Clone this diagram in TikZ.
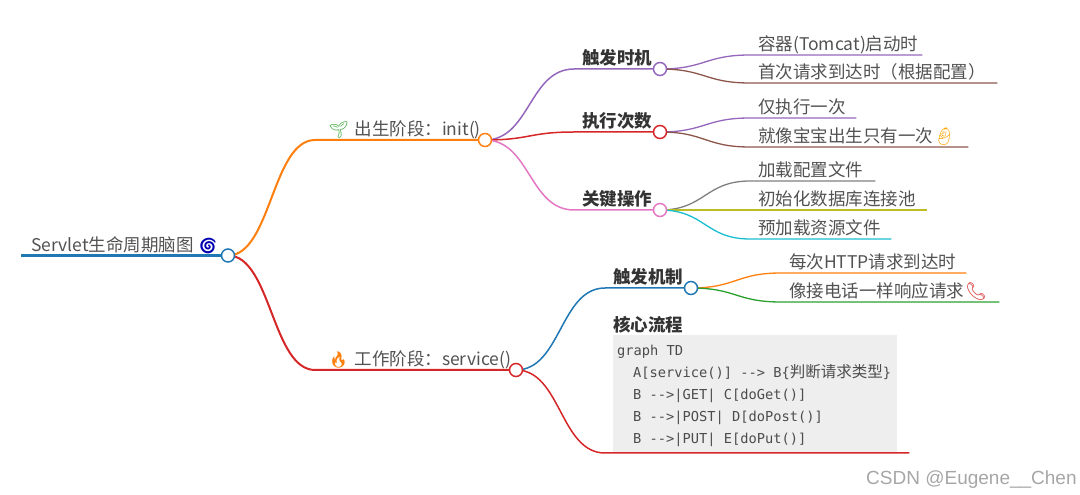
\documentclass[tikz,border=0pt]{standalone}
\usepackage{fontspec}
\setmainfont{Noto Sans CJK SC}
\setmonofont{DejaVu Sans Mono}
\newfontfamily\cjkcode{Noto Sans CJK SC}
\newfontfamily\emojifont{Noto Emoji}
\newfontfamily\markfont{Liberation Sans}
\usepackage{xcolor}
\usetikzlibrary{positioning,calc,backgrounds}
\newcommand{\codesp}{\hspace*{8.25pt}}

\definecolor{mapblue}{HTML}{1F77B4}
\definecolor{maporange}{HTML}{FF7F0E}
\definecolor{mapgreen}{HTML}{2CA02C}
\definecolor{mapred}{HTML}{D62728}
\definecolor{mappurple}{HTML}{9467BD}
\definecolor{mapbrown}{HTML}{8C564B}
\definecolor{mappink}{HTML}{E377C2}
\definecolor{mapgray}{HTML}{7F7F7F}
\definecolor{mapolive}{HTML}{BCBD22}
\definecolor{mapcyan}{HTML}{17BECF}

\begin{document}
\begin{tikzpicture}[
    x=1pt, y=1pt,
    node distance=0pt,
    dot/.style={circle, draw=#1, fill=white, line width=1.5pt, inner sep=0pt, minimum size=13pt},
    txt/.style={inner ysep=0pt, inner xsep=8pt, text depth=4pt, text height=15pt, align=left, text=black!68,
        font=\fontsize{17.5}{21}\selectfont},
    leaf/.style={txt, anchor=south west},
    stem/.style={txt, anchor=south east},
    strong/.style={stem, text=black!80, font=\fontsize{17.5}{21}\selectfont\bfseries},
    codebox/.style={fill=black!6.5, anchor=south west, inner xsep=4pt, inner ysep=0pt, align=left, text width=276pt, minimum height=117pt,
        text=black!70, font=\fontsize{13.7}{22}\ttfamily},
    curve/.style={line width=#1},
    curve/.default=1.3pt
]
    \useasboundingbox (0,0) rectangle (1080,495);

    % Dots
    \node (root_dot) [dot=mapblue] at (228,239.5) {};
    \node (init_dot) [dot=maporange, right of=root_dot, xshift=257pt, yshift=115.5pt] {};
    \node (service_dot) [dot=mapred, right of=root_dot, xshift=288pt, yshift=-114.5pt] {};
    \node (timing_dot) [dot=mappurple, right of=init_dot, xshift=175pt, yshift=71pt] {};
    \node (count_dot) [dot=mapred, right of=init_dot, xshift=175pt, yshift=8pt] {};
    \node (ops_dot) [dot=mappink, right of=init_dot, xshift=175pt, yshift=-70pt] {};
    \node (mech_dot) [dot=mapblue, right of=service_dot, xshift=175pt, yshift=82pt] {};

    % Stems
    \node (root_txt) [left of=root_dot, xshift=-6.5pt, stem, inner xsep=10pt, text width=180pt] {\mbox{Servlet生命周期脑图\hspace{4pt}{\emojifont\fontsize{16}{21}\selectfont\textcolor{blue!70!black}{🌀}}}};
    \node (init_txt) [left of=init_dot, xshift=-6.5pt, stem, inner xsep=13pt, text width=137pt] {\mbox{{\emojifont\fontsize{16}{21}\selectfont\textcolor{mapgreen}{🌱}}\hspace{6pt}出生阶段：init()}};
    \node (service_txt) [left of=service_dot, xshift=-6.5pt, stem, inner xsep=13pt, text width=168pt] {\mbox{{\emojifont\fontsize{16}{21}\selectfont\textcolor{maporange}{🔥}}\hspace{6pt}工作阶段：service()}};
    \node (timing_txt) [left of=timing_dot, xshift=-6.5pt, strong, text width=63pt] {触发时机};
    \node (count_txt) [left of=count_dot, xshift=-6.5pt, strong, text width=63pt] {执行次数};
    \node (ops_txt) [left of=ops_dot, xshift=-6.5pt, strong, text width=63pt] {关键操作};
    \node (mech_txt) [left of=mech_dot, xshift=-6.5pt, strong, text width=63pt] {触发机制};

    % Leaves
    \node (tomcat_txt) [right of=timing_dot, xshift=90pt, yshift=14pt, leaf, text width=156pt] {容器(Tomcat)启动时};
    \node (first_txt) [right of=timing_dot, xshift=90pt, yshift=-14pt, leaf, text width=231pt] {首次请求到达时（根据配置）};
    \node (once_txt) [right of=count_dot, xshift=90pt, yshift=14pt, leaf, text width=90pt] {仅执行一次};
    \node (baby_txt) [right of=count_dot, xshift=90pt, yshift=-15pt, leaf, text width=202pt] {\mbox{就像宝宝出生只有一次{\emojifont\textcolor{maporange!70!yellow}{👶}}}};
    \node (load_txt) [right of=ops_dot, xshift=90pt, yshift=29pt, leaf, text width=109pt] {加载配置文件};
    \node (pool_txt) [right of=ops_dot, xshift=90pt, leaf, text width=161pt] {初始化数据库连接池};
    \node (res_txt) [right of=ops_dot, xshift=90pt, yshift=-29pt, leaf, text width=125pt] {预加载资源文件};
    \node (http_txt) [right of=mech_dot, xshift=90pt, yshift=15pt, leaf, text width=169pt] {每次HTTP请求到达时};
    \node (phone_txt) [right of=mech_dot, xshift=90pt, yshift=-14pt, leaf, text width=202pt] {\mbox{像接电话一样响应请求\hspace{1pt}{\emojifont\textcolor{mapred}{📞}}}};

    % Code block
    \node (flow_box) [right of=service_dot, xshift=97pt, yshift=-82pt, codebox] {\rule{0pt}{16pt}graph\codesp TD\\
    \hspace*{16pt}A[service()]\codesp -{}-{}>\codesp B\{{\cjkcode\fontsize{15.5}{22}\selectfont 判断请求类型}\}\\
    \hspace*{16pt}B\codesp -{}-{}>|GET|\codesp C[doGet()]\\
    \hspace*{16pt}B\codesp -{}-{}>|POST|\codesp D[doPost()]\\
    \hspace*{16pt}B\codesp -{}-{}>|PUT|\codesp E[doPut()]};
    \node (flow_txt) [anchor=south west, txt, inner xsep=0pt, text=black!80, font=\fontsize{17.5}{21}\selectfont\bfseries, text depth=3pt] at (flow_box.north west) {核心流程};
    \coordinate (flow_in) at ($(flow_box.south west)+(-8,-1)$);
    \coordinate (flow_out) at ($(flow_box.south east)+(12,-1)$);

    % Watermark
    \node (mark_txt) [xshift=253pt, yshift=-28pt, anchor=west, inner sep=0pt, text=black!35, font=\markfont\fontsize{19}{22}\selectfont] at (flow_box.south west) {CSDN @Eugene\_\_Chen};

    \begin{scope}[on background layer]
    % Root
    \draw [mapblue, line width=2.6pt] (root_txt.south west) -- (root_dot);

    % First level
    \draw [maporange, line width=2pt] (root_dot.center) .. controls +(43,0) and +(-43,0) .. (init_txt.south west) -- (init_dot);
    \draw [mapred, line width=2pt] (root_dot.center) .. controls +(43,0) and +(-43,0) .. (service_txt.south west) -- (service_dot);

    % Second level
    \draw [mappurple, curve=1.5pt] (init_dot.center) .. controls +(45,0) and +(-45,0) .. (timing_txt.south west) -- (timing_dot);
    \draw [mapred, curve=1.5pt] (init_dot.center) .. controls +(45,0) and +(-45,0) .. (count_txt.south west) -- (count_dot);
    \draw [mappink, curve=1.5pt] (init_dot.center) .. controls +(45,0) and +(-45,0) .. (ops_txt.south west) -- (ops_dot);
    \draw [mapblue, curve=1.5pt] (service_dot.center) .. controls +(45,0) and +(-45,0) .. (mech_txt.south west) -- (mech_dot);
    \draw [mapred, curve=1.5pt] (service_dot.center) .. controls +(45,0) and +(-45,0) .. (flow_in) -- (flow_out);

    % Third level
    \draw [mappurple, curve] (timing_dot.center) .. controls +(45,0) and +(-45,0) .. (tomcat_txt.south west) -- (tomcat_txt.south east);
    \draw [mapbrown, curve] (timing_dot.center) .. controls +(45,0) and +(-45,0) .. (first_txt.south west) -- (first_txt.south east);
    \draw [mappurple, curve] (count_dot.center) .. controls +(45,0) and +(-45,0) .. (once_txt.south west) -- (once_txt.south east);
    \draw [mapbrown, curve] (count_dot.center) .. controls +(45,0) and +(-45,0) .. (baby_txt.south west) -- (baby_txt.south east);
    \draw [mapgray, curve] (ops_dot.center) .. controls +(45,0) and +(-45,0) .. (load_txt.south west) -- (load_txt.south east);
    \draw [mapolive, curve] (ops_dot.center) .. controls +(45,0) and +(-45,0) .. (pool_txt.south west) -- (pool_txt.south east);
    \draw [mapcyan, curve] (ops_dot.center) .. controls +(45,0) and +(-45,0) .. (res_txt.south west) -- (res_txt.south east);
    \draw [maporange, curve] (mech_dot.center) .. controls +(45,0) and +(-45,0) .. (http_txt.south west) -- (http_txt.south east);
    \draw [mapgreen, curve] (mech_dot.center) .. controls +(45,0) and +(-45,0) .. (phone_txt.south west) -- (phone_txt.south east);
    \end{scope}

\end{tikzpicture}
\end{document}
